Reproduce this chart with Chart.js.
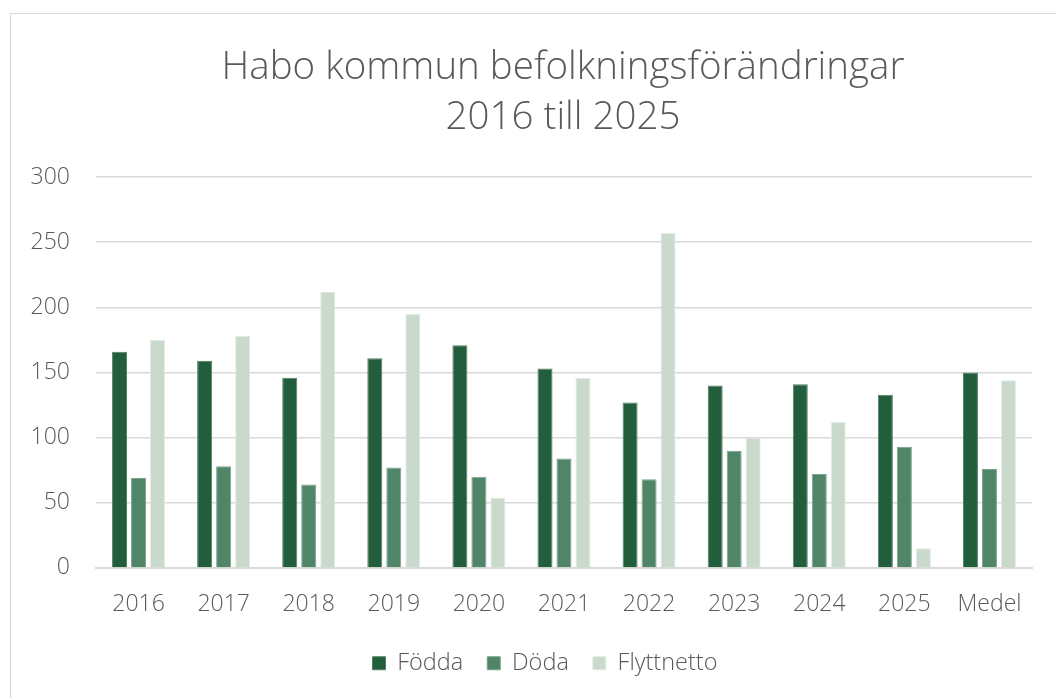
<!DOCTYPE html>
<html>
<head>
<meta charset="utf-8">
<script src="https://cdn.jsdelivr.net/npm/chart.js@4"></script>
<style>
  html, body { margin: 0; padding: 0; background: #ffffff; }
  #wrap { position: relative; width: 1056px; height: 698px; overflow: hidden; }
  #frame { position: absolute; left: 10px; top: 13px; width: 1060px; height: 700px; border: 1.5px solid #D9D9D9; box-sizing: border-box; }
  canvas { position: absolute; left: 0; top: 0; }
</style>
</head>
<body>
<div id="wrap">
  <div id="frame"></div>
  <canvas id="c" width="1056" height="698"></canvas>
</div>
<script>
const categories = ['2016', '2017', '2018', '2019', '2020', '2021', '2022', '2023', '2024', '2025', 'Medel'];
const fodda = [166, 159, 146, 161, 171, 153, 127, 140, 141, 133, 150];
const doda = [69, 78, 64, 77, 70, 84, 68, 90, 72, 93, 76];
const flyttnetto = [175, 178, 212, 195, 54, 146, 257, 100, 112, 15, 144];
const yTicks = [0, 50, 100, 150, 200, 250, 300];
const titleLines = ['Habo kommun befolkningsförändringar', '2016 till 2025'];

const FONT = "'Open Sans', 'Segoe UI', sans-serif";
const TEXT = '#595959';

function ds(label, data, color, border) {
  return {
    label, data,
    backgroundColor: color,
    borderColor: border,
    borderWidth: 1,
    categoryPercentage: 0.67,
    barPercentage: 0.79
  };
}

// Shift title and legend horizontally to match the reference (chart frame is wider than the view)
const shiftPlugin = {
  id: 'shiftBlocks',
  afterLayout(chart) {
    const t = chart.titleBlock;
    if (t) { t.left += 37; t.right += 37; }
    const l = chart.legend;
    if (l) { l.left += 19; l.right += 19; }
  }
};

new Chart(document.getElementById('c'), {
  type: 'bar',
  data: {
    labels: categories,
    datasets: [
      ds('Födda', fodda, '#225E3B', '#4f7f62'),
      ds('Döda', doda, '#518567', '#7aa28a'),
      ds('Flyttnetto', flyttnetto, '#C9D9CB', '#e2ece3')
    ]
  },
  plugins: [shiftPlugin],
  options: {
    responsive: false,
    animation: false,
    layout: { padding: { left: 20, right: 24, top: 19, bottom: 13 } },
    plugins: {
      tooltip: { enabled: false },
      title: {
        display: true,
        text: titleLines,
        color: TEXT,
        font: { family: FONT, size: 38.5, weight: 300, lineHeight: 1.3 },
        padding: { top: 24, bottom: 34 }
      },
      legend: {
        position: 'bottom',
        labels: {
          color: TEXT,
          font: { family: FONT, size: 23.5, weight: 300 },
          boxWidth: 13,
          boxHeight: 13,
          padding: 24,
          useBorderRadius: false
        }
      }
    },
    scales: {
      x: {
        afterFit: (axis) => { axis.height = axis.height - 14; },
        grid: { display: false, drawTicks: false },
        border: { color: '#D9D9D9', width: 2 },
        ticks: { color: TEXT, font: { family: FONT, size: 23, weight: 300 }, padding: 23, maxRotation: 0 }
      },
      y: {
        min: 0, max: 300,
        afterBuildTicks: (axis) => { axis.ticks = yTicks.map(v => ({ value: v })); },
        afterFit: (axis) => { axis.width = 76; },
        grid: { color: '#D9D9D9', lineWidth: 1.5, drawTicks: false },
        border: { display: false },
        ticks: { color: TEXT, font: { family: FONT, size: 23, weight: 300 }, padding: 26 }
      }
    }
  }
});
</script>
</body>
</html>
